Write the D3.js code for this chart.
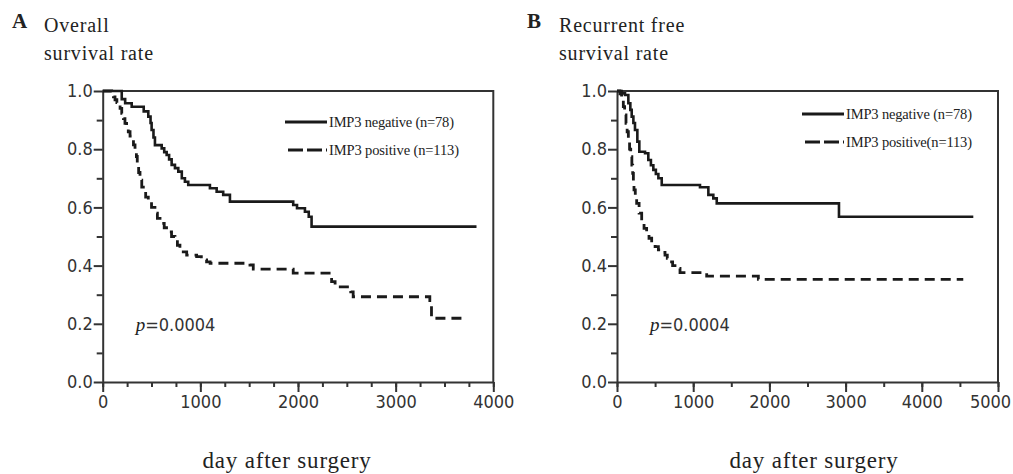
<!DOCTYPE html>
<html>
<head>
<meta charset="utf-8" />
<style>
  body { margin: 0; background: #fff; }
  .tick text { font-family: "DejaVu Sans Condensed", "DejaVu Sans", sans-serif; font-size: 18px; fill: #333; }
  .serif { font-family: "Liberation Serif", "Times New Roman", serif; fill: #222; }
</style>
</head>
<body>
<svg width="1013" height="474"></svg>
<script src="https://d3js.org/d3.v7.min.js"></script>
<script>
// Kaplan-Meier step points: [day, survival] (survival holds from that day on)
var overallNeg = [[0,1],[195,0.972],[230,0.958],[297,0.946],[420,0.93],[467,0.912],[490,0.89],[501,0.866],[520,0.84],[535,0.814],[604,0.803],[630,0.79],[655,0.78],[680,0.765],[706,0.746],[740,0.735],[774,0.723],[810,0.70],[842,0.688],[876,0.677],[1098,0.666],[1167,0.654],[1234,0.643],[1303,0.62],[1951,0.608],[1990,0.597],[2071,0.585],[2110,0.568],[2139,0.534],[3828,0.534]];
var overallPos = [[0,1],[92,0.99],[110,0.98],[126,0.97],[145,0.96],[160,0.952],[178,0.94],[195,0.923],[212,0.905],[228,0.889],[245,0.875],[262,0.86],[280,0.845],[297,0.832],[315,0.815],[331,0.797],[345,0.775],[354,0.751],[368,0.72],[382,0.694],[400,0.67],[416,0.648],[440,0.635],[467,0.62],[500,0.6],[535,0.58],[560,0.562],[587,0.545],[630,0.53],[672,0.516],[705,0.5],[740,0.488],[765,0.47],[791,0.459],[825,0.447],[860,0.436],[962,0.431],[1010,0.42],[1064,0.413],[1100,0.408],[1508,0.402],[1542,0.388],[1951,0.374],[2344,0.345],[2380,0.327],[2540,0.31],[2565,0.293],[3350,0.28],[3367,0.219],[3691,0.219]];
var recurNeg = [[0,1],[62,0.992],[105,0.986],[149,0.958],[175,0.935],[193,0.912],[215,0.89],[236,0.866],[267,0.826],[293,0.791],[368,0.786],[411,0.763],[445,0.745],[477,0.729],[510,0.715],[543,0.7],[587,0.677],[1089,0.669],[1199,0.643],[1264,0.631],[1309,0.614],[2913,0.568],[4676,0.568]];
var recurPos = [[0,1],[39,0.99],[60,0.97],[83,0.946],[100,0.918],[118,0.889],[133,0.86],[149,0.832],[165,0.8],[180,0.774],[195,0.745],[206,0.717],[215,0.69],[223,0.66],[240,0.637],[258,0.614],[290,0.58],[324,0.545],[355,0.528],[389,0.511],[420,0.494],[455,0.477],[500,0.465],[543,0.454],[585,0.445],[630,0.436],[660,0.425],[696,0.413],[730,0.4],[761,0.39],[827,0.376],[1177,0.364],[1855,0.353],[4544,0.353]];

var yTicks = [0, 0.2, 0.4, 0.6, 0.8, 1.0];
var legendLabels = ["IMP3 negative (n=78)", "IMP3 positive (n=113)"];
var legendLabelsB = ["IMP3 negative (n=78)", "IMP3 positive(n=113)"];
var pValue = "=0.0004";

var svg = d3.select("svg");

function panel(cfg) {
  var x = d3.scaleLinear().domain([0, cfg.xMax]).range([cfg.left, cfg.right]);
  var y = d3.scaleLinear().domain([0, 1]).range([382, 91]);
  var g = svg.append("g");

  // minor ticks
  g.append("g").attr("transform", "translate(0,382)")
    .call(d3.axisBottom(x).tickValues(d3.range(0, cfg.xMax + 1, cfg.minorStep)).tickSize(5).tickFormat(""))
    .call(function (a) { a.select(".domain").remove(); a.selectAll("line").attr("stroke", "#333").attr("stroke-width", 2); });
  g.append("g").attr("transform", "translate(" + cfg.left + ",0)")
    .call(d3.axisLeft(y).tickValues(d3.range(0.1, 1, 0.2)).tickSize(6).tickFormat(""))
    .call(function (a) { a.select(".domain").remove(); a.selectAll("line").attr("stroke", "#333").attr("stroke-width", 2); });

  // major axes
  var xa = g.append("g").attr("transform", "translate(0,382)")
    .call(d3.axisBottom(x).tickValues(d3.range(0, cfg.xMax + 1, 1000)).tickFormat(d3.format("d")).tickSize(10).tickPadding(3).tickSizeOuter(0));
  var ya = g.append("g").attr("transform", "translate(" + cfg.left + ",0)")
    .call(d3.axisLeft(y).tickValues(yTicks).tickFormat(d3.format(".1f")).tickSize(9).tickPadding(1).tickSizeOuter(0));
  [xa, ya].forEach(function (a) {
    a.select(".domain").attr("stroke", "#333").attr("stroke-width", 2);
    a.selectAll(".tick line").attr("stroke", "#333").attr("stroke-width", 2);
  });
  // keep the last x label inside the page
  xa.selectAll(".tick text").filter(function (d) { return d === 5000; }).attr("dx", -8);

  // frame top/right
  g.append("path")
    .attr("d", "M" + cfg.left + "," + y(1) + "H" + cfg.right + "V" + y(0))
    .attr("fill", "none").attr("stroke", "#333").attr("stroke-width", 2);

  var line = d3.line().x(function (d) { return x(d[0]); }).y(function (d) { return y(d[1]); }).curve(d3.curveStepAfter);
  g.append("path").datum(cfg.neg).attr("d", line)
    .attr("fill", "none").attr("stroke", "#1a1a1a").attr("stroke-width", 2.6);
  g.append("path").datum(cfg.pos).attr("d", line)
    .attr("fill", "none").attr("stroke", "#1a1a1a").attr("stroke-width", 2.8)
    .attr("stroke-dasharray", "10,6");

  // legend
  var lg = g.append("g");
  lg.append("line").attr("x1", cfg.legX).attr("x2", cfg.legX + 42).attr("y1", cfg.legY).attr("y2", cfg.legY)
    .attr("stroke", "#1a1a1a").attr("stroke-width", 3);
  lg.append("line").attr("x1", cfg.legX + 3).attr("x2", cfg.legX + 42).attr("y1", cfg.legY + 28).attr("y2", cfg.legY + 28)
    .attr("stroke", "#1a1a1a").attr("stroke-width", 3).attr("stroke-dasharray", "15,4,15,4,2,2");
  cfg.labels.forEach(function (t, i) {
    lg.append("text").attr("class", "serif").attr("x", cfg.legX + 44).attr("y", cfg.legY + 5 + i * 28)
      .attr("font-size", 14.5).attr("textLength", cfg.legW[i]).text(t);
  });

  // p value
  var pt = g.append("text").attr("x", cfg.left + 33).attr("y", 331);
  pt.append("tspan").attr("class", "serif").attr("font-style", "italic").attr("font-size", 19).text("p");
  pt.append("tspan").attr("font-family", "DejaVu Sans Condensed, DejaVu Sans, sans-serif").attr("font-size", 18).attr("fill", "#333").text(pValue);

  // titles
  g.append("text").attr("class", "serif").attr("x", cfg.titleX).attr("y", 28)
    .attr("font-size", 21).attr("font-weight", "bold").text(cfg.letter);
  cfg.title.forEach(function (t, i) {
    g.append("text").attr("class", "serif").attr("x", cfg.titleX + 32).attr("y", 32 + i * 28)
      .attr("font-size", 20).attr("letter-spacing", 0.8).text(t);
  });
  g.append("text").attr("class", "serif").attr("x", cfg.xLabelX).attr("y", 468)
    .attr("text-anchor", "middle").attr("font-size", 23).attr("letter-spacing", 0.8).text("day after surgery");
}

panel({ left: 102.7, right: 493.3, xMax: 4000, minorStep: 250, neg: overallNeg, pos: overallPos,
  legX: 285, legY: 122, labels: legendLabels, legW: [125, 130], letter: "A", titleX: 12, title: ["Overall", "survival rate"], xLabelX: 287 });
panel({ left: 617, right: 998, xMax: 5000, minorStep: 500, neg: recurNeg, pos: recurPos,
  legX: 802, legY: 114, labels: legendLabelsB, legW: [126, 126], letter: "B", titleX: 527, title: ["Recurrent free", "survival rate"], xLabelX: 814 });
</script>
</body>
</html>
